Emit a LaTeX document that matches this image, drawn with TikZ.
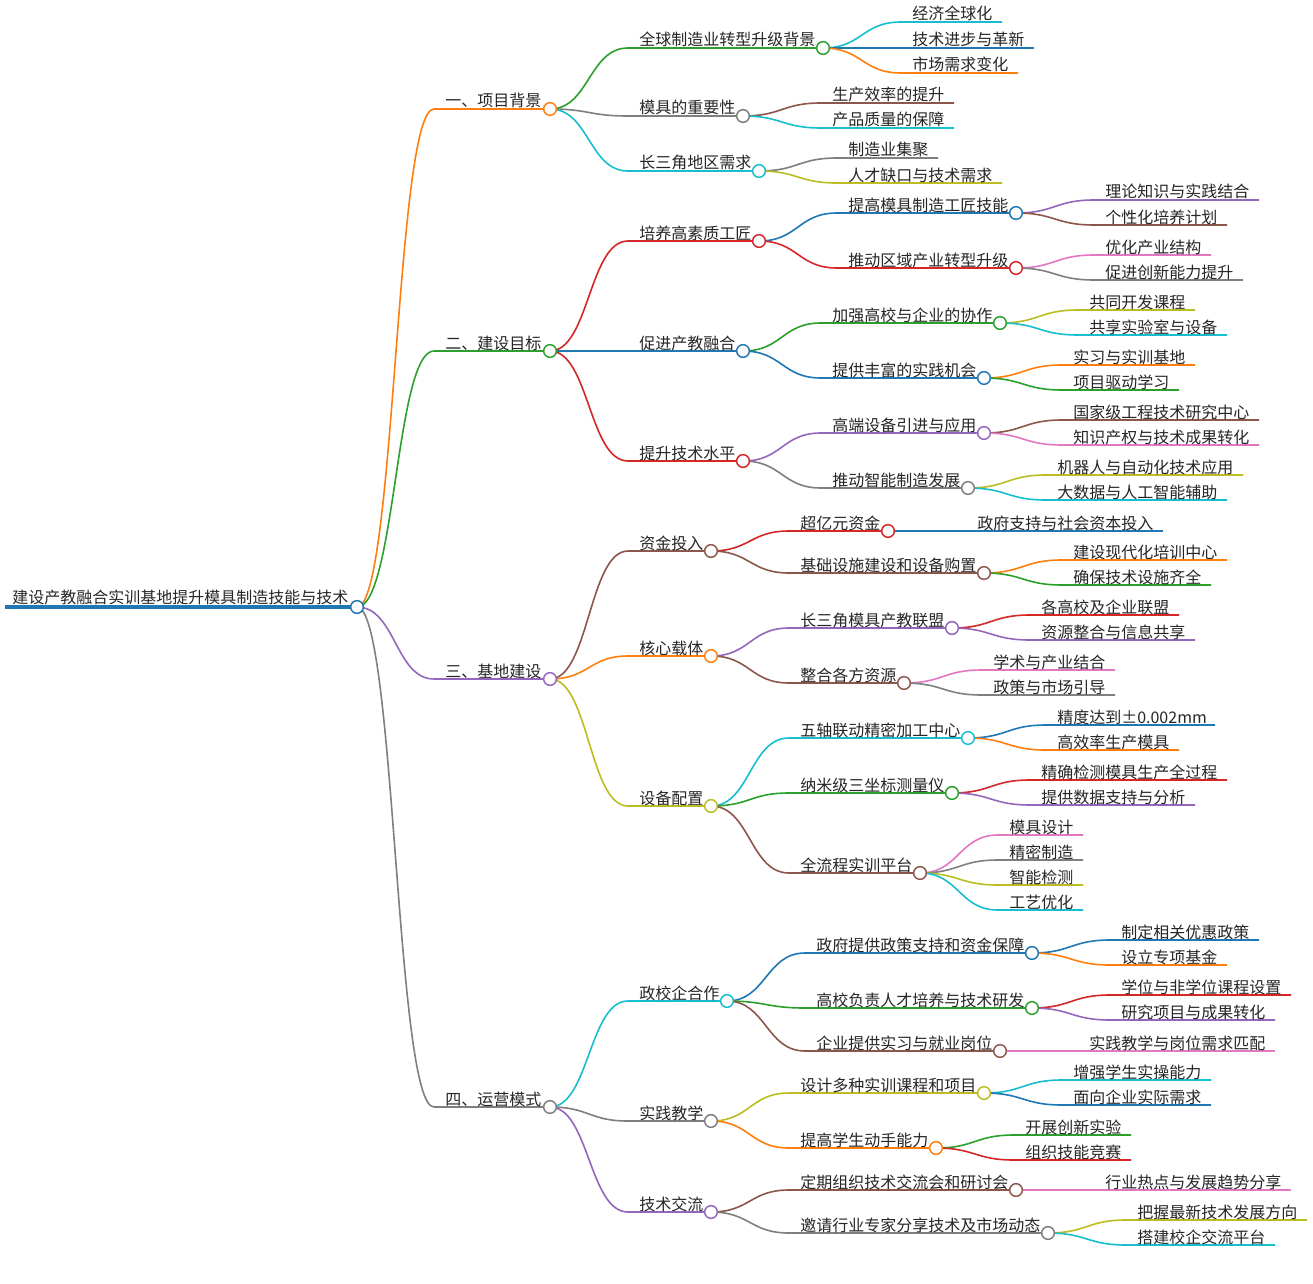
\documentclass[tikz,border=0pt]{standalone}
\usepackage{fontspec}
\setmainfont{Noto Sans CJK SC}
\usetikzlibrary{calc,backgrounds}
\definecolor{cOrange}{RGB}{255,127,14}
\definecolor{cGreen}{RGB}{44,160,44}
\definecolor{cBlue}{RGB}{31,119,180}
\definecolor{cRed}{RGB}{214,39,40}
\definecolor{cPurple}{RGB}{148,103,189}
\definecolor{cBrown}{RGB}{140,86,75}
\definecolor{cPink}{RGB}{227,119,194}
\definecolor{cGrey}{RGB}{127,127,127}
\definecolor{cOlive}{RGB}{188,189,34}
\definecolor{cCyan}{RGB}{23,190,207}
\tikzset{
  edge/.style={line width=1.2pt},
  dot/.style={circle, fill=white, draw, line width=1.1pt, minimum size=9.5pt, inner sep=0pt},
  lbl/.style={anchor=base west, inner sep=0pt, font=\fontsize{12pt}{14pt}\selectfont, text=black!85},
}
% #1 name, #2 parent, #3 colour, #4 text x, #5 line y, #6 circle x, #7 text
\newcommand\mmbranch[7]{%
  \coordinate (#1s) at ({#4-11},#5);
  \coordinate (#1e) at (#6,#5);
  \path ($(#2)!.5!(#1s)$) coordinate (#1m);
  \begin{pgfonlayer}{background}
  \draw[edge,#3] (#2.center) .. controls (#1m |- #2) and (#1m |- #1s) .. (#1s) -- (#1e);
  \end{pgfonlayer}
  \node[dot,draw=#3] (#1) at (#1e) {};
  \node[lbl] (#1t) at (#4,{#5-2}) {#7};
}
% #1 name, #2 parent, #3 colour, #4 text x, #5 line y, #6 end x, #7 text
\newcommand\mmleaf[7]{%
  \coordinate (#1s) at ({#4-11},#5);
  \coordinate (#1e) at (#6,#5);
  \path ($(#2)!.5!(#1s)$) coordinate (#1m);
  \begin{pgfonlayer}{background}
  \draw[edge,#3] (#2.center) .. controls (#1m |- #2) and (#1m |- #1s) .. (#1s) -- (#1e);
  \end{pgfonlayer}
  \node[lbl] (#1) at (#4,{#5-2}) {#7};
}
\begin{document}
\begin{tikzpicture}[x=0.75pt,y=-0.75pt]
\useasboundingbox (0,0) rectangle (1313,1284);
\begin{pgfonlayer}{background}
\fill[white] (0,0) rectangle (1313,1284);
\end{pgfonlayer}
% root
\coordinate (roots) at (5,607);
\node[dot,draw=cBlue] (root) at (357,607) {};
\begin{pgfonlayer}{background}
\draw[line width=3pt,cBlue] (roots) -- (root.center);
\end{pgfonlayer}
\node[lbl] (roott) at (12,603) {建设产教融合实训基地提升模具制造技能与技术};

% ===== branch 1
\mmbranch{a}{root}{cOrange}{445}{109}{550}{一、项目背景}
\mmbranch{a1}{a}{cGreen}{639}{48}{823}{全球制造业转型升级背景}
\mmleaf{a1a}{a1}{cCyan}{912}{22}{1002}{经济全球化}
\mmleaf{a1b}{a1}{cBlue}{912}{48}{1034}{技术进步与革新}
\mmleaf{a1c}{a1}{cOrange}{912}{73}{1018}{市场需求变化}
\mmbranch{a2}{a}{cGrey}{639}{116}{743}{模具的重要性}
\mmleaf{a2a}{a2}{cBrown}{832}{103}{954}{生产效率的提升}
\mmleaf{a2b}{a2}{cCyan}{832}{128}{954}{产品质量的保障}
\mmbranch{a3}{a}{cCyan}{639}{171}{759}{长三角地区需求}
\mmleaf{a3a}{a3}{cGrey}{848}{158}{938}{制造业集聚}
\mmleaf{a3b}{a3}{cOlive}{848}{183}{1002}{人才缺口与技术需求}

% ===== branch 2
\mmbranch{b}{root}{cGreen}{445}{351}{550}{二、建设目标}
\mmbranch{b1}{b}{cRed}{639}{241}{759}{培养高素质工匠}
\mmbranch{b1a}{b1}{cBlue}{848}{213}{1016}{提高模具制造工匠技能}
\mmleaf{b1a1}{b1a}{cPurple}{1105}{200}{1259}{理论知识与实践结合}
\mmleaf{b1a2}{b1a}{cBrown}{1105}{225}{1227}{个性化培养计划}
\mmbranch{b1b}{b1}{cRed}{848}{268}{1016}{推动区域产业转型升级}
\mmleaf{b1b1}{b1b}{cPink}{1105}{255}{1211}{优化产业结构}
\mmleaf{b1b2}{b1b}{cGrey}{1105}{280}{1243}{促进创新能力提升}
\mmbranch{b2}{b}{cBlue}{639}{351}{743}{促进产教融合}
\mmbranch{b2a}{b2}{cGreen}{832}{323}{1000}{加强高校与企业的协作}
\mmleaf{b2a1}{b2a}{cOlive}{1089}{310}{1195}{共同开发课程}
\mmleaf{b2a2}{b2a}{cCyan}{1089}{335}{1227}{共享实验室与设备}
\mmbranch{b2b}{b2}{cBlue}{832}{378}{984}{提供丰富的实践机会}
\mmleaf{b2b1}{b2b}{cOrange}{1073}{365}{1195}{实习与实训基地}
\mmleaf{b2b2}{b2b}{cGreen}{1073}{390}{1179}{项目驱动学习}
\mmbranch{b3}{b}{cRed}{639}{461}{743}{提升技术水平}
\mmbranch{b3a}{b3}{cPurple}{832}{433}{984}{高端设备引进与应用}
\mmleaf{b3a1}{b3a}{cBrown}{1073}{420}{1259}{国家级工程技术研究中心}
\mmleaf{b3a2}{b3a}{cPink}{1073}{445}{1259}{知识产权与技术成果转化}
\mmbranch{b3b}{b3}{cGrey}{832}{488}{968}{推动智能制造发展}
\mmleaf{b3b1}{b3b}{cOlive}{1057}{475}{1243}{机器人与自动化技术应用}
\mmleaf{b3b2}{b3b}{cCyan}{1057}{500}{1227}{大数据与人工智能辅助}

% ===== branch 3
\mmbranch{c}{root}{cPurple}{445}{679}{550}{三、基地建设}
\mmbranch{c1}{c}{cBrown}{639}{551}{711}{资金投入}
\mmbranch{c1a}{c1}{cRed}{800}{531}{888}{超亿元资金}
\mmleaf{c1a1}{c1a}{cBlue}{977}{531}{1163}{政府支持与社会资本投入}
\mmbranch{c1b}{c1}{cBrown}{800}{573}{984}{基础设施建设和设备购置}
\mmleaf{c1b1}{c1b}{cOrange}{1073}{560}{1227}{建设现代化培训中心}
\mmleaf{c1b2}{c1b}{cGreen}{1073}{585}{1211}{确保技术设施齐全}
\mmbranch{c2}{c}{cOrange}{639}{656}{711}{核心载体}
\mmbranch{c2a}{c2}{cPurple}{800}{628}{952}{长三角模具产教联盟}
\mmleaf{c2a1}{c2a}{cRed}{1041}{615}{1179}{各高校及企业联盟}
\mmleaf{c2a2}{c2a}{cPurple}{1041}{640}{1195}{资源整合与信息共享}
\mmbranch{c2b}{c2}{cBrown}{800}{683}{904}{整合各方资源}
\mmleaf{c2b1}{c2b}{cPink}{993}{670}{1115}{学术与产业结合}
\mmleaf{c2b2}{c2b}{cGrey}{993}{695}{1115}{政策与市场引导}
\mmbranch{c3}{c}{cOlive}{639}{806}{711}{设备配置}
\mmbranch{c3a}{c3}{cCyan}{800}{738}{968}{五轴联动精密加工中心}
\mmleaf{c3a1}{c3a}{cBlue}{1057}{725}{1215}{精度达到±0.002mm}
\mmleaf{c3a2}{c3a}{cOrange}{1057}{750}{1179}{高效率生产模具}
\mmbranch{c3b}{c3}{cGreen}{800}{793}{952}{纳米级三坐标测量仪}
\mmleaf{c3b1}{c3b}{cRed}{1041}{780}{1227}{精确检测模具生产全过程}
\mmleaf{c3b2}{c3b}{cPurple}{1041}{805}{1195}{提供数据支持与分析}
\mmbranch{c3c}{c3}{cBrown}{800}{873}{920}{全流程实训平台}
\mmleaf{c3c1}{c3c}{cPink}{1009}{835}{1083}{模具设计}
\mmleaf{c3c2}{c3c}{cGrey}{1009}{860}{1083}{精密制造}
\mmleaf{c3c3}{c3c}{cOlive}{1009}{885}{1083}{智能检测}
\mmleaf{c3c4}{c3c}{cCyan}{1009}{910}{1083}{工艺优化}

% ===== branch 4
\mmbranch{d}{root}{cGrey}{445}{1107}{550}{四、运营模式}
\mmbranch{d1}{d}{cCyan}{639}{1001}{727}{政校企合作}
\mmbranch{d1a}{d1}{cBlue}{816}{953}{1032}{政府提供政策支持和资金保障}
\mmleaf{d1a1}{d1a}{cBlue}{1121}{940}{1259}{制定相关优惠政策}
\mmleaf{d1a2}{d1a}{cOrange}{1121}{965}{1227}{设立专项基金}
\mmbranch{d1b}{d1}{cGreen}{816}{1008}{1032}{高校负责人才培养与技术研发}
\mmleaf{d1b1}{d1b}{cRed}{1121}{995}{1291}{学位与非学位课程设置}
\mmleaf{d1b2}{d1b}{cPurple}{1121}{1020}{1275}{研究项目与成果转化}
\mmbranch{d1c}{d1}{cBrown}{816}{1051}{1000}{企业提供实习与就业岗位}
\mmleaf{d1c1}{d1c}{cPink}{1089}{1051}{1275}{实践教学与岗位需求匹配}
\mmbranch{d2}{d}{cGrey}{639}{1121}{711}{实践教学}
\mmbranch{d2a}{d2}{cOlive}{800}{1093}{984}{设计多种实训课程和项目}
\mmleaf{d2a1}{d2a}{cCyan}{1073}{1080}{1211}{增强学生实操能力}
\mmleaf{d2a2}{d2a}{cBlue}{1073}{1105}{1211}{面向企业实际需求}
\mmbranch{d2b}{d2}{cOrange}{800}{1148}{936}{提高学生动手能力}
\mmleaf{d2b1}{d2b}{cGreen}{1025}{1135}{1131}{开展创新实验}
\mmleaf{d2b2}{d2b}{cRed}{1025}{1160}{1131}{组织技能竞赛}
\mmbranch{d3}{d}{cPurple}{639}{1212}{711}{技术交流}
\mmbranch{d3a}{d3}{cBrown}{800}{1190}{1016}{定期组织技术交流会和研讨会}
\mmleaf{d3a1}{d3a}{cPink}{1105}{1190}{1291}{行业热点与发展趋势分享}
\mmbranch{d3b}{d3}{cGrey}{800}{1233}{1048}{邀请行业专家分享技术及市场动态}
\mmleaf{d3b1}{d3b}{cOlive}{1137}{1220}{1307}{把握最新技术发展方向}
\mmleaf{d3b2}{d3b}{cCyan}{1137}{1245}{1275}{搭建校企交流平台}
\end{tikzpicture}
\end{document}
